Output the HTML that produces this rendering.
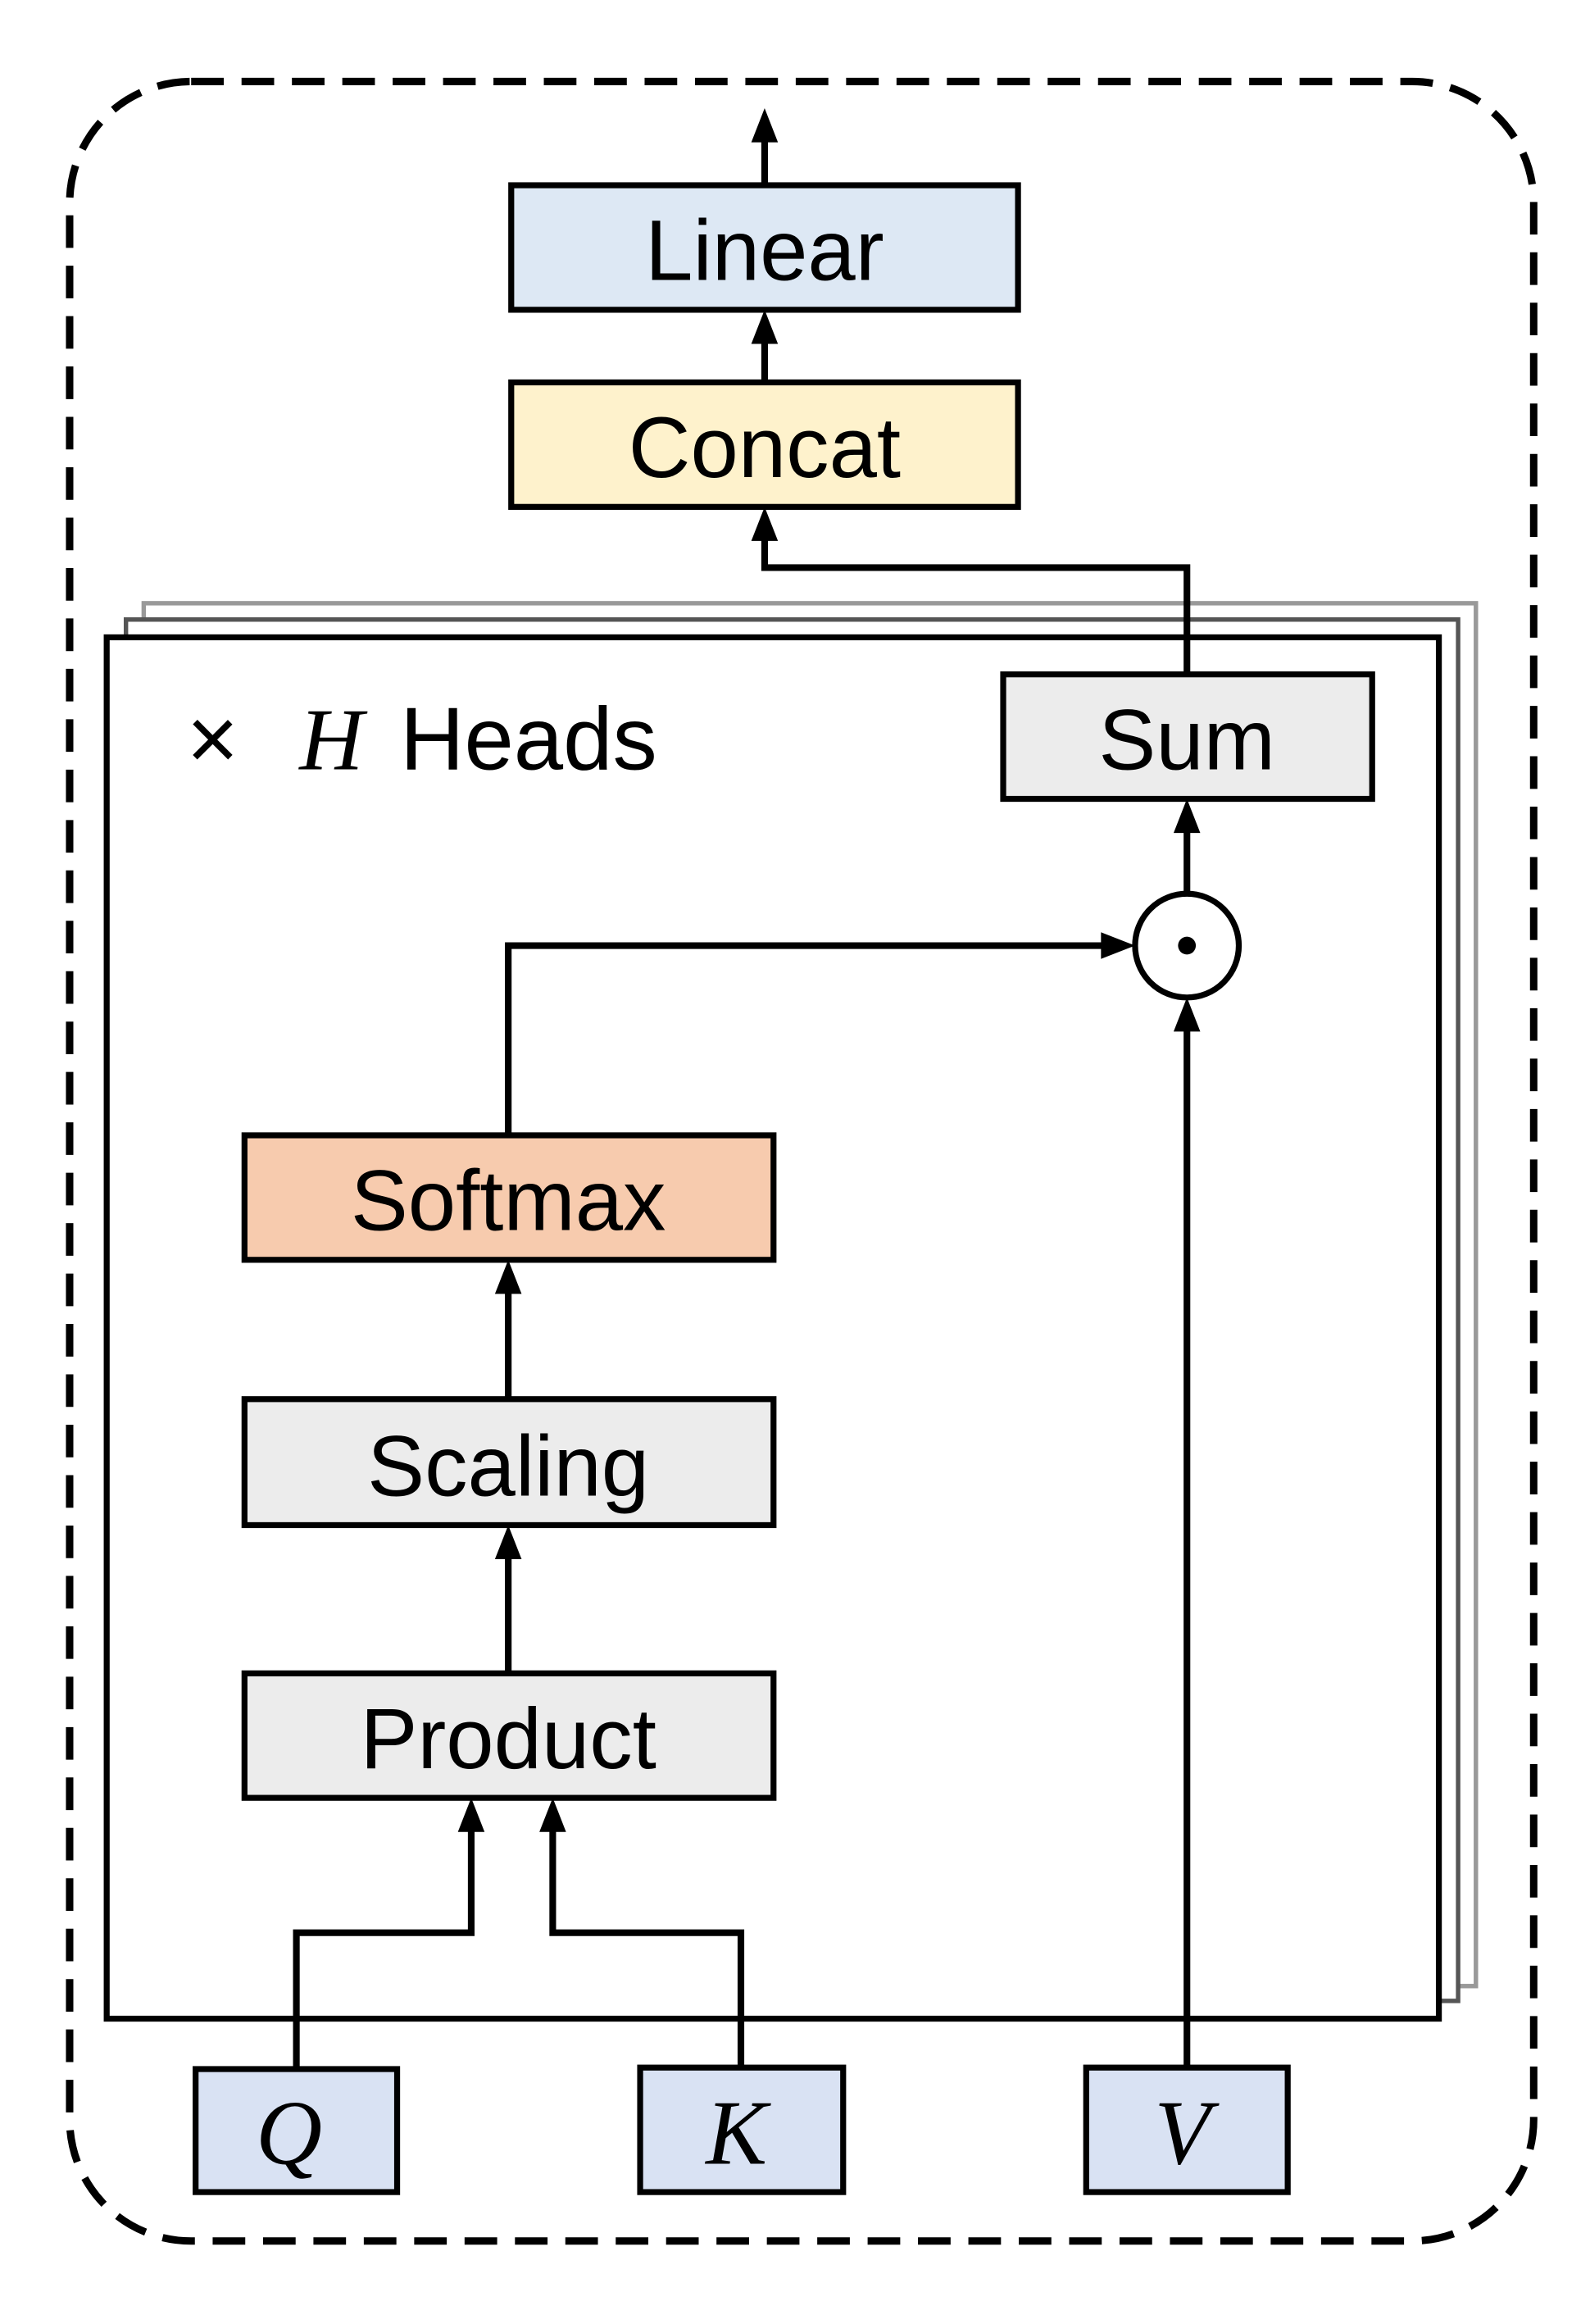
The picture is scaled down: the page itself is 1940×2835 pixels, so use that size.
<!DOCTYPE html>
<html><head><meta charset="utf-8"><style>html,body{margin:0;padding:0;background:#fff}svg{display:block}</style></head>
<body>
<svg width="1940" height="2835" viewBox="0 0 1073 1568" preserveAspectRatio="none" xmlns="http://www.w3.org/2000/svg">
<rect x="47" y="55" width="988" height="1457" rx="82" ry="82" fill="none" stroke="#000" stroke-width="5" stroke-dasharray="22 12"/>
<g font-family="Liberation Sans, DejaVu Sans, sans-serif" font-size="58" text-anchor="middle" fill="#000">
<rect x="97" y="407" width="899" height="933" fill="#fff" stroke="#999" stroke-width="3"/>
<rect x="85" y="418" width="899" height="932" fill="#fff" stroke="#555" stroke-width="3"/>
<rect x="72" y="430" width="899" height="932" fill="#fff" stroke="#000" stroke-width="4"/>
<rect x="345" y="125" width="342" height="84" fill="#dde8f4" stroke="#000" stroke-width="4"/>
<text x="516" y="189">Linear</text>
<rect x="345" y="258" width="342" height="84" fill="#fef2cc" stroke="#000" stroke-width="4"/>
<text x="516" y="322">Concat</text>
<rect x="677" y="455" width="249" height="84" fill="#ececec" stroke="#000" stroke-width="4"/>
<text x="801" y="519">Sum</text>
<rect x="165" y="766" width="357" height="84" fill="#f7cbae" stroke="#000" stroke-width="4"/>
<text x="343" y="830">Softmax</text>
<rect x="165" y="944" width="357" height="85" fill="#ececec" stroke="#000" stroke-width="4"/>
<text x="343" y="1009">Scaling</text>
<rect x="165" y="1129" width="357" height="84" fill="#ececec" stroke="#000" stroke-width="4"/>
<text x="343" y="1193">Product</text>
<text x="126" y="519" text-anchor="start" font-size="60">×</text>
<text x="202" y="519" text-anchor="start" font-size="60" font-family="Liberation Serif, serif" font-style="italic">H</text>
<text x="270" y="519" text-anchor="start" font-size="60">Heads</text>
<rect x="132" y="1396" width="136" height="83" fill="#d9e2f3" stroke="#000" stroke-width="4"/>
<rect x="432" y="1395" width="137" height="84" fill="#d9e2f3" stroke="#000" stroke-width="4"/>
<rect x="733" y="1395" width="136" height="84" fill="#d9e2f3" stroke="#000" stroke-width="4"/>
<g font-family="Liberation Serif, serif" font-style="italic" font-size="62">
<text x="195" y="1460">Q</text><text x="497" y="1460">K</text><text x="798" y="1460">V</text>
</g>
<circle cx="801" cy="638" r="35" fill="#fff" stroke="#000" stroke-width="4"/>
<circle cx="801" cy="638" r="6" fill="#000"/>
</g>
<g fill="none" stroke="#000" stroke-width="4.5">
<path d="M516 125 V92"/>
<path d="M516 258 V226"/>
<path d="M801 455 V383 H516 V359"/>
<path d="M801 603 V556"/>
<path d="M343 766 V638 H748"/>
<path d="M343 944 V867"/>
<path d="M343 1129 V1046"/>
<path d="M200 1396 V1304 H318 V1230"/>
<path d="M500 1395 V1304 H373 V1230"/>
<path d="M801 1395 V690"/>
</g>
<g fill="#000">
<path d="M516 73 L507 96 L525 96 Z"/>
<path d="M516 209 L507 232 L525 232 Z"/>
<path d="M516 342 L507 365 L525 365 Z"/>
<path d="M801 539 L792 562 L810 562 Z"/>
<path d="M766 638 L743 629 L743 647 Z"/>
<path d="M801 673 L792 696 L810 696 Z"/>
<path d="M343 850 L334 873 L352 873 Z"/>
<path d="M343 1029 L334 1052 L352 1052 Z"/>
<path d="M318 1213 L309 1236 L327 1236 Z"/>
<path d="M373 1213 L364 1236 L382 1236 Z"/>
</g>
</svg>
</body></html>
